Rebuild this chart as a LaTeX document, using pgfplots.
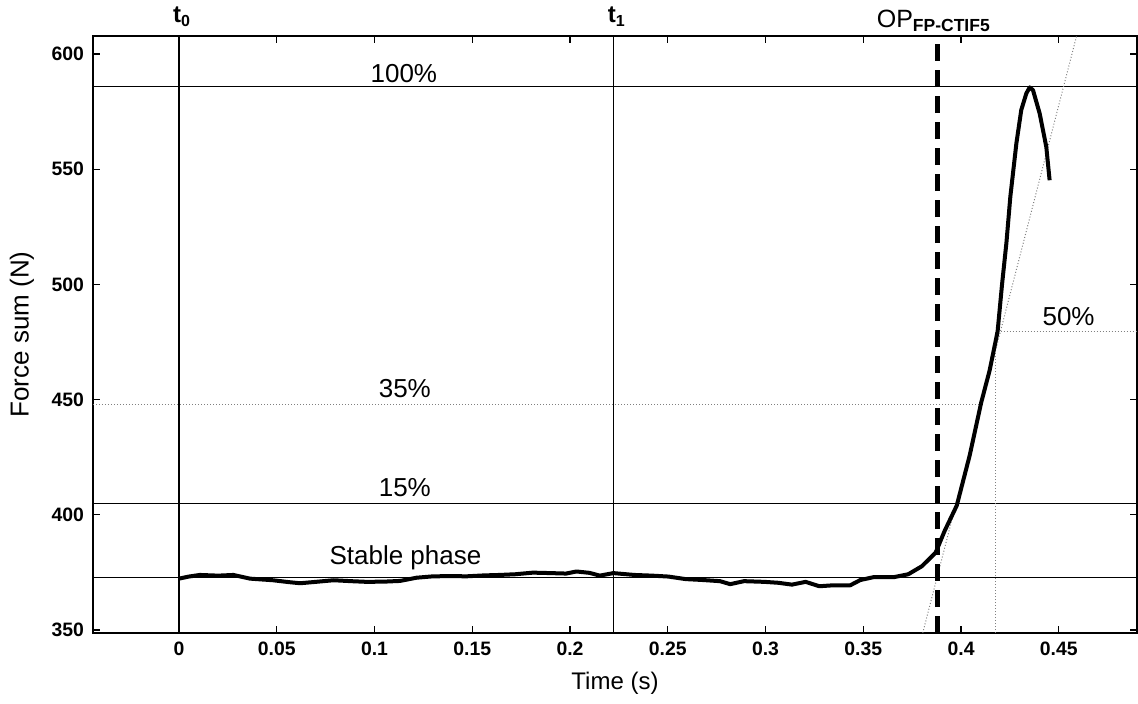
\documentclass[border=0pt]{standalone}
\usepackage{fontspec}
\setmainfont{Liberation Sans}
\usepackage{pgfplots}
\pgfplotsset{compat=1.18}
\pgfplotstableread{
t N
0.0000 372.3
0.0050 373.2
0.0107 373.9
0.0200 373.6
0.0278 373.9
0.0363 372.3
0.0480 371.6
0.0560 370.8
0.0619 370.3
0.0700 370.9
0.0790 371.6
0.0880 371.2
0.0960 370.9
0.1050 371.0
0.1130 371.3
0.1215 372.7
0.1300 373.3
0.1400 373.4
0.1470 373.3
0.1560 373.7
0.1640 373.9
0.1720 374.2
0.1810 374.9
0.1900 374.7
0.1980 374.5
0.2033 375.4
0.2100 374.8
0.2152 373.6
0.2222 374.7
0.2328 373.9
0.2420 373.6
0.2503 373.2
0.2591 372.1
0.2679 371.7
0.2767 371.2
0.2819 369.9
0.2890 371.2
0.2994 370.9
0.3065 370.5
0.3135 369.7
0.3205 370.9
0.3275 369.0
0.3345 369.4
0.3433 369.4
0.3485 371.7
0.3556 373.0
0.3660 373.0
0.3730 374.2
0.3800 377.7
0.3870 383.6
0.3916 393.0
0.3978 404.0
0.4044 425.7
0.4103 448.7
0.4146 462.6
0.4187 479.6
0.4210 500.3
0.4232 518.0
0.4252 538.0
0.4283 561.2
0.4308 575.7
0.4334 582.9
0.4351 585.5
0.4368 584.3
0.4402 574.2
0.4436 559.7
0.4453 545.2
}\curve
\begin{document}
\begin{tikzpicture}
\begin{axis}[name=ax, scale only axis, width=522pt, height=298.5pt,
  xmin=-0.044, xmax=0.49, ymin=348.7, ymax=607.8,
  xtick={0,0.05,0.1,0.15,0.2,0.25,0.3,0.35,0.4,0.45},
  xticklabels={0,0.05,0.1,0.15,0.2,0.25,0.3,0.35,0.4,0.45},
  ytick={350,400,450,500,550,600},
  yticklabels={350,400,450,500,550,600},
  tick align=inside, major tick length=3.5pt,
  tick style={black, line width=0.6pt},
  axis line style={black, line width=0.6pt},
  tick label style={font=\fontsize{9.7}{11}\selectfont\bfseries},
  xticklabel style={yshift=-1pt},
  yticklabel style={xshift=-1pt},
  xlabel={Time (s)}, ylabel={Force sum (N)},
  xlabel style={font=\fontsize{12}{14}\selectfont, at={(axis description cs:0.5,-0.0838)}, anchor=center},
  ylabel style={font=\fontsize{13}{15}\selectfont, at={(axis description cs:-0.068,0.5)}, anchor=center},
  clip=false,
]
\addplot[black, line width=0.5pt] coordinates {(-0.044,586)(0.49,586)};
\addplot[black, line width=0.5pt] coordinates {(-0.044,405)(0.49,405)};
\addplot[black, line width=0.5pt] coordinates {(-0.044,373)(0.49,373)};
\addplot[gray, densely dotted, line width=0.5pt] coordinates {(-0.044,448)(0.41,448)};
\addplot[gray, densely dotted, line width=0.5pt] coordinates {(0.4187,479.5)(0.49,479.5)};
\addplot[gray, densely dotted, line width=0.5pt] coordinates {(0.4177,348.7)(0.4177,479.5)};
\addplot[gray, densely dotted, line width=0.5pt] coordinates {(0.3804,348.7)(0.4591,607.8)};
\addplot[black, line width=0.6pt] coordinates {(0,348.7)(0,607.8)};
\addplot[black, line width=0.6pt] coordinates {(0.2224,348.7)(0.2224,607.8)};
\addplot[black, line width=2.3pt, dash pattern=on 8.5pt off 4.5pt] coordinates {(0.388,348.7)(0.388,607.8)};
\addplot[black, line width=2pt, line join=round] table[x=t, y=N] {\curve};
\node[anchor=base, font=\fontsize{13}{15}\selectfont] at (axis cs:0.115,587.8) {100\%};
\node[anchor=base, font=\fontsize{13}{15}\selectfont] at (axis cs:0.1155,451) {35\%};
\node[anchor=base, font=\fontsize{13}{15}\selectfont] at (axis cs:0.1155,408) {15\%};
\node[anchor=base, font=\fontsize{13}{15}\selectfont] at (axis cs:0.1158,378.6) {Stable phase};
\node[anchor=base, font=\fontsize{13}{15}\selectfont] at (axis cs:0.455,482.2) {50\%};
\node[anchor=base west, font=\fontsize{12}{14}\selectfont\bfseries, inner sep=0pt, xshift=-3.2pt, yshift=6.5pt] at (axis cs:0,607.8) {t\textsubscript{0}};
\node[anchor=base west, font=\fontsize{12}{14}\selectfont\bfseries, inner sep=0pt, xshift=-3.2pt, yshift=6.5pt] at (axis cs:0.2224,607.8) {t\textsubscript{1}};
\node[anchor=base west, font=\fontsize{12.5}{14}\selectfont, inner sep=0pt, yshift=4pt] at (axis cs:0.3567,607.8) {OP\textsubscript{\bfseries FP-CTIF5}};
\end{axis}
\pgfresetboundingbox
\path ([shift={(-46.5pt,-35pt)}]ax.south west) rectangle ([shift={(0.5pt,18pt)}]ax.north east);
\end{tikzpicture}
\end{document}
